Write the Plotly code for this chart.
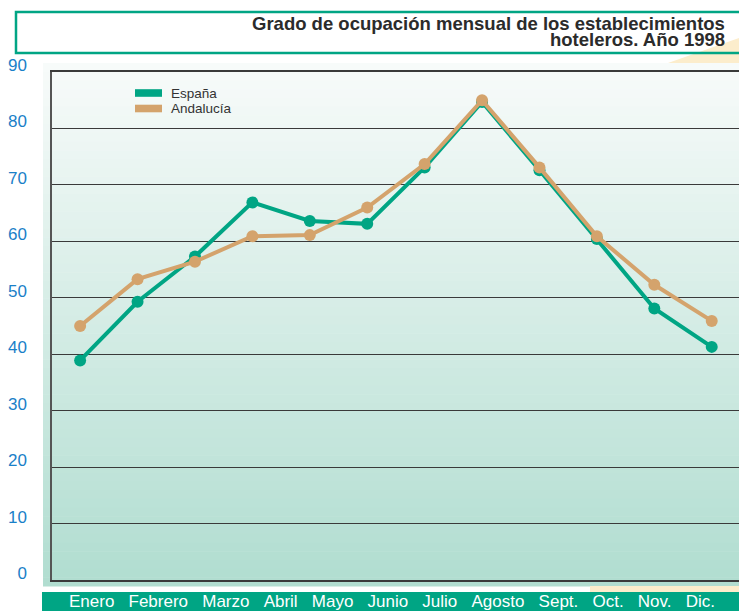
import plotly.graph_objects as go

months = ["Enero", "Febrero", "Marzo", "Abril", "Mayo", "Junio", "Julio",
          "Agosto", "Sept.", "Oct.", "Nov.", "Dic."]
espana = [38.9, 49.3, 57.3, 66.9, 63.6, 63.1, 73.1, 84.7, 72.6, 60.4, 48.1, 41.3]
andalucia = [45.0, 53.3, 56.4, 60.9, 61.1, 66.0, 73.7, 85.0, 73.1, 60.9, 52.3, 45.9]
series_names = ["España", "Andalucía"]
y_ticks = [0, 10, 20, 30, 40, 50, 60, 70, 80, 90]
title_lines = ["Grado de ocupación mensual de los establecimientos",
               "hoteleros. Año 1998"]

GREEN = "#00a584"
TAN = "#d4a36c"
CREAM = "#fcedcc"
FONT = "Liberation Sans, Arial, Helvetica, sans-serif"

PAGE_W, PAGE_H = 739, 611
L, R, T, B = 52, 739, 72, 580
PW, PH = R - L, B - T


def px(x):
    return (x - L) / PW


def py(y):
    return (B - y) / PH


def lerp(c1, c2, t):
    return tuple(round(a + (b - a) * t) for a, b in zip(c1, c2))


fig = go.Figure()
colors = [GREEN, TAN]
for name, vals, col in zip(series_names, [espana, andalucia], colors):
    fig.add_trace(go.Scatter(
        x=months, y=vals, mode="lines+markers", name=name,
        line=dict(color=col, width=4), marker=dict(color=col, size=12),
        showlegend=False))

shapes = []
# gradient background panel
top_c, bot_c = (248, 251, 250), (176, 221, 208)
y_top, y_bot = 63, 586
n = 60
for i in range(n):
    ya = y_top + (y_bot - y_top) * i / n
    yb = y_top + (y_bot - y_top) * (i + 1) / n
    c = lerp(top_c, bot_c, (i + 0.5) / n)
    shapes.append(dict(type="rect", xref="paper", yref="paper",
                       x0=px(43), x1=1.0, y0=py(yb + 0.5), y1=py(ya),
                       fillcolor="rgb(%d,%d,%d)" % c, line=dict(width=0),
                       layer="below"))
# cream triangle top-right
shapes.append(dict(type="path", xref="paper", yref="paper",
                   path="M %f,%f L %f,%f L %f,%f Z" % (px(668), py(63), px(739), py(38), px(739), py(63)),
                   fillcolor=CREAM, line=dict(width=0), layer="below"))
# cream strip bottom-right
shapes.append(dict(type="rect", xref="paper", yref="paper",
                   x0=px(590), x1=1.0, y0=py(592), y1=py(586),
                   fillcolor=CREAM, line=dict(width=0), layer="below"))
# green band for month labels
shapes.append(dict(type="rect", xref="paper", yref="paper",
                   x0=px(42), x1=1.0, y0=py(612), y1=py(592),
                   fillcolor=GREEN, line=dict(width=0), layer="below"))
# title box
shapes.append(dict(type="rect", xref="paper", yref="paper",
                   x0=px(16), x1=px(745), y0=py(53), y1=py(12),
                   fillcolor="rgba(0,0,0,0)", line=dict(color=GREEN, width=2.5)))

annotations = []
# title (two lines, tight spacing)
for line, ymid in zip(title_lines, [23.5, 40]):
    annotations.append(dict(
        xref="paper", yref="paper", x=px(727), y=py(ymid), xanchor="right", yanchor="middle",
        text="<b>" + line + "</b>", showarrow=False,
        font=dict(family=FONT, size=18.5, color="#2b2b2b")))
# month labels in green band
annotations.append(dict(
    xref="paper", yref="paper", x=px(67), y=py(601.5), xanchor="left", yanchor="middle",
    text=("\u00a0" * 3).join(months), showarrow=False,
    font=dict(family=FONT, size=17, color="white")))
# custom legend
for name, col, ymid in zip(series_names, colors, [93, 108.5]):
    shapes.append(dict(type="rect", xref="paper", yref="paper",
                       x0=px(135), x1=px(162), y0=py(ymid + 3.8), y1=py(ymid - 3.8),
                       fillcolor=col, line=dict(width=0)))
    annotations.append(dict(
        xref="paper", yref="paper", x=px(168.5), y=py(ymid), xanchor="left", yanchor="middle",
        text=name, showarrow=False, font=dict(family=FONT, size=13.5, color="#333")))

fig.update_layout(
    width=PAGE_W, height=PAGE_H,
    margin=dict(l=L, r=PAGE_W - R, t=T, b=PAGE_H - B, pad=0),
    paper_bgcolor="white", plot_bgcolor="rgba(0,0,0,0)",
    shapes=shapes, annotations=annotations, showlegend=False,
    font=dict(family=FONT, color="#333"),
    xaxis=dict(range=[-0.49, 11.475], showgrid=False, showticklabels=False,
               showline=True, linecolor="#3a3a3a", linewidth=1.5, mirror=True,
               zeroline=False, ticks=""),
    yaxis=dict(range=[0, 90], tickvals=y_ticks, ticktext=[str(v) for v in y_ticks],
               showgrid=True, gridcolor="#3a3a3a", gridwidth=1.3,
               showline=True, linecolor="#555", linewidth=1.5, zeroline=False,
               ticks="", ticklabelstandoff=20, ticklabelshift=-7,
               tickfont=dict(family=FONT, size=17, color="#1a80c8")),
)

fig.write_html(
    "out.html",
    config={"displayModeBar": False},
    post_script="document.body.style.margin='0';document.body.style.overflow='hidden';",
)
